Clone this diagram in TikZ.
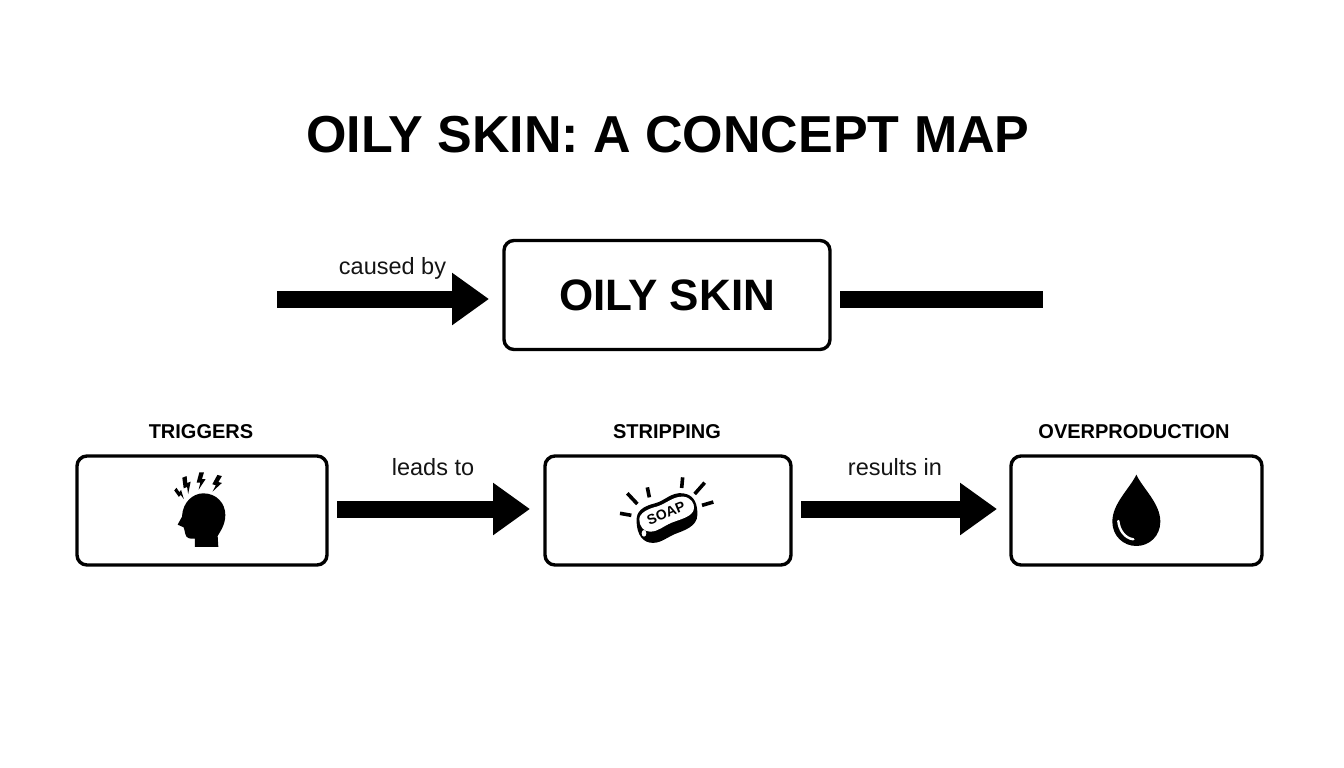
\documentclass[tikz,border=0pt]{standalone}
\usepackage{fontspec}
\setmainfont{Liberation Sans}
\usetikzlibrary{arrows.meta}
\tikzset{
  box/.style={draw=black,line width=3.4pt,rounded corners=10pt,outer sep=0pt,inner sep=0pt,fill=white},
  bigarrow/.style={line width=17pt,-{Triangle[length=37pt,width=50pt]},black},
  bar/.style={line width=17pt,black},
  lbl/.style={font=\fontsize{23.5}{26}\selectfont,inner sep=0pt,text=black!92},
  head/.style={font=\fontsize{20}{24}\selectfont\bfseries,inner sep=0pt},
  ray/.style={line width=3.6pt,black}
}
\newcommand{\boltpath}{(-4,-25) -- (10,-25) -- (4,-5) -- (15,-5) -- (-6,27) -- (-1,6) -- (-12,6) -- cycle}
\begin{document}
\begin{tikzpicture}[x=1pt,y=-1pt]
\useasboundingbox (0,0) rectangle (1344,768);
\fill[white] (0,0) rectangle (1344,768);
\node[font=\fontsize{52}{60}\selectfont\bfseries,inner sep=0pt] (title) at (668,135) {OILY SKIN: A CONCEPT MAP};
\node[box,minimum width=326pt,minimum height=109pt,font=\fontsize{44}{50}\selectfont\bfseries] (oily) at (667,295) {OILY SKIN};
\node[box,minimum width=250pt,minimum height=109pt] (trig) at (202,510.5) {};
\node[box,minimum width=246pt,minimum height=109pt] (strip) at (668,510.5) {};
\node[box,minimum width=251pt,minimum height=109pt] (over) at (1136.5,510.5) {};
\node[head] (ht) at (201,432) {TRIGGERS};
\node[head] (hs) at (667,432) {STRIPPING};
\node[head] (ho) at (1134,432) {OVERPRODUCTION};
\coordinate (freeL) at (277,299);
\coordinate (freeR) at (1043,299);
\draw[bigarrow,shorten >=15pt] (freeL) -- (oily.west |- freeL);
\draw[bar,shorten <=10pt] (oily.east |- freeR) -- (freeR);
\draw[bigarrow,shorten <=10pt,shorten >=15pt] (trig.east |- 0,509) -- (strip.west |- 0,509);
\draw[bigarrow,shorten <=10pt,shorten >=14pt] (strip.east |- 0,509) -- (over.west |- 0,509);
\node[lbl] (l1) at (392.5,268) {caused by};
\node[lbl] (l2) at (433,467) {leads to};
\node[lbl] (l3) at (895,467) {results in};
% head icon
\begin{scope}[shift={(130,450)},x=0.3333pt,y=-0.3333pt]
\fill (265,291) -- (195,291) -- (195,266) .. controls (182,267) and (168,266) .. (166,252) .. controls (165,245) and (163,240) .. (161,232) -- (143,224) -- (156,200) .. controls (158,155) and (190,130) .. (220,130) .. controls (260,130) and (286,160) .. (286,195) .. controls (286,225) and (270,245) .. (263,258) -- cycle;
\fill[shift={(212,92)}] \boltpath;
\fill[shift={(260,100)},rotate=-14] \boltpath;
\fill[shift={(170,105)},rotate=22] \boltpath;
\fill[shift={(149,131)},rotate=50,scale=0.75] \boltpath;
\end{scope}
% soap icon
\begin{scope}[shift={(600,460)},x=0.3333pt,y=-0.3333pt]
\fill (110,175) .. controls (112,145) and (145,135) .. (165,130) .. controls (195,122) and (215,95) .. (250,100) .. controls (285,105) and (293,135) .. (292,165) .. controls (292,200) and (250,212) .. (225,222) .. controls (195,235) and (180,252) .. (150,248) .. controls (120,243) and (108,210) .. (110,175) -- cycle;
\fill[white] (118,178) .. controls (118,158) and (148,145) .. (170,140) .. controls (198,132) and (220,108) .. (250,110) .. controls (272,112) and (284,130) .. (282,145) .. controls (280,170) and (240,178) .. (215,188) .. controls (190,198) and (175,215) .. (150,215) .. controls (130,215) and (118,198) .. (118,178) -- cycle;
\node[font=\fontsize{14}{16}\selectfont\bfseries,rotate=22,inner sep=0pt] (soap) at (198,160) {SOAP};
\fill[white] (132,220) ellipse (7 and 10);
\draw[ray] (60,160) -- (94,166);
\draw[ray] (82,100) -- (112,132);
\draw[ray] (142,82) -- (148,112);
\draw[ray] (248,52) -- (245,84);
\draw[ray] (314,68) -- (284,102);
\draw[ray] (340,126) -- (306,136);
\end{scope}
% drop icon
\begin{scope}[shift={(1080,460)},x=0.3333pt,y=-0.3333pt]
\fill (169,44) .. controls (150,85) and (97,130) .. (97,185) .. controls (97,228) and (130,258) .. (169,258) .. controls (208,258) and (241,228) .. (241,185) .. controls (241,130) and (188,85) .. (169,44) -- cycle;
\draw[white,line width=2.4pt,line cap=round] (115,183) .. controls (117,210) and (135,235) .. (160,238);
\end{scope}
\end{tikzpicture}
\end{document}
